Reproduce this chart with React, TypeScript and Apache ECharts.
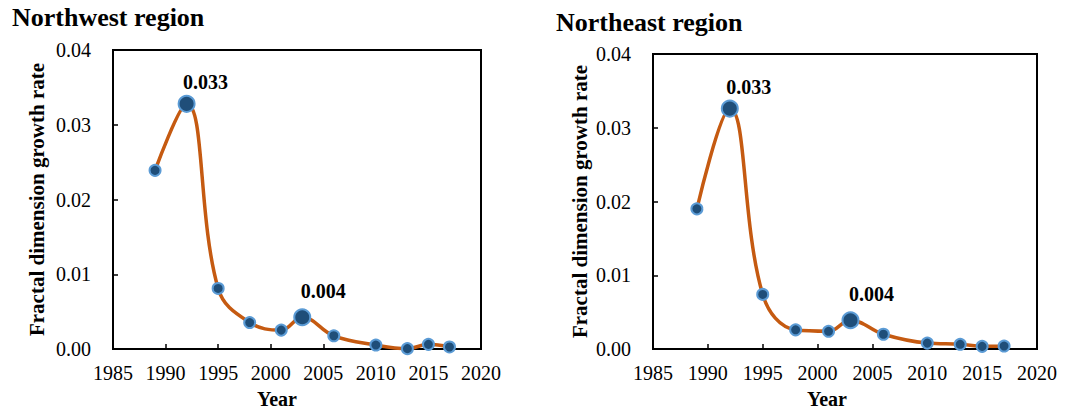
import React, { useEffect, useRef } from "react";
import * as echarts from "echarts";

const years = [1989, 1992, 1995, 1998, 2001, 2003, 2006, 2010, 2013, 2015, 2017];
const northwest = [0.0239, 0.0328, 0.0081, 0.00354, 0.00253, 0.00425, 0.00177, 0.00053, 0.00005, 0.00062, 0.00027];
const northeast = [0.019, 0.0326, 0.0074, 0.0026, 0.0024, 0.0039, 0.002, 0.0008, 0.00064, 0.00036, 0.0004];
const labelledYears = [1992, 2003];
const titles = ["Northwest region", "Northeast region"];
const yAxisName = "Fractal dimension growth rate";
const xAxisName = "Year";

const FONT = "Liberation Serif";

function buildData(values: number[], labelOffsets: number[][]) {
  return years.map((y, i) => {
    const li = labelledYears.indexOf(y);
    if (li >= 0) {
      return {
        value: [y, values[i]],
        symbolSize: 16,
        label: {
          show: true,
          position: "top",
          offset: labelOffsets[li],
          formatter: (p: any) => p.value[1].toFixed(3),
          fontFamily: FONT,
          fontWeight: "bold",
          fontSize: 20,
          color: "#000",
        },
      };
    }
    return { value: [y, values[i]] };
  });
}

export default function App() {
  const ref = useRef<HTMLDivElement>(null);
  useEffect(() => {
    if (!ref.current) return;
    const chart = echarts.init(ref.current, undefined, { renderer: "svg" });
    const grids = [
      { left: 113, top: 50, width: 368, height: 301 },
      { left: 653, top: 54, width: 384, height: 296 },
    ];
    const yNameGaps = [66, 63];
    const yearPads = [40, 36];
    const mkX = (i: number) => ({
      type: "value",
      gridIndex: i,
      min: 1985,
      max: 2020,
      interval: 5,
      name: xAxisName,
      nameLocation: "middle",
      nameGap: 40,
      nameTextStyle: {
        fontFamily: FONT,
        fontWeight: "bold",
        fontSize: 20,
        color: "#000",
        padding: [0, yearPads[i], 0, 0],
      },
      axisLine: { show: true, lineStyle: { color: "#000", width: 2 } },
      axisTick: { show: true, inside: true, length: 5, lineStyle: { color: "#000", width: 1.5 } },
      axisLabel: {
        fontFamily: FONT,
        fontSize: 20,
        color: "#000",
        margin: 14,
        formatter: (v: number) => String(v),
      },
      splitLine: { show: false },
    });
    const mkY = (i: number) => ({
      type: "value",
      gridIndex: i,
      min: 0,
      max: 0.04,
      interval: 0.01,
      name: yAxisName,
      nameLocation: "middle",
      nameGap: yNameGaps[i],
      nameTextStyle: { fontFamily: FONT, fontWeight: "bold", fontSize: 21, color: "#000" },
      axisLine: { show: true, lineStyle: { color: "#000", width: 2 } },
      axisTick: { show: true, inside: true, length: 5, lineStyle: { color: "#000", width: 1.5 } },
      axisLabel: {
        fontFamily: FONT,
        fontSize: 20,
        color: "#000",
        margin: 22,
        formatter: (v: number) => v.toFixed(2),
      },
      splitLine: { show: false },
    });
    const mkSeries = (i: number, values: number[], offs: number[][]) => ({
      type: "line",
      xAxisIndex: i,
      yAxisIndex: i,
      smooth: 0.4,
      symbol: "circle",
      symbolSize: 11,
      lineStyle: { color: "#C55A11", width: 3.5 },
      itemStyle: { color: "#1F4E79", borderColor: "#5B9BD5", borderWidth: 2 },
      data: buildData(values, offs),
      z: 3,
    });
    chart.setOption({
      animation: false,
      backgroundColor: "#fff",
      title: [
        { text: titles[0], left: 12, top: 4, padding: 0, textStyle: { fontFamily: FONT, fontWeight: "bold", fontSize: 26, color: "#000" } },
        { text: titles[1], left: 556, top: 9, padding: 0, textStyle: { fontFamily: FONT, fontWeight: "bold", fontSize: 26, color: "#000" } },
      ],
      grid: grids.map((g) => ({ ...g, show: true, borderColor: "#000", borderWidth: 2, backgroundColor: "transparent" })),
      xAxis: [mkX(0), mkX(1)],
      yAxis: [mkY(0), mkY(1)],
      series: [
        mkSeries(0, northwest, [[19, 2], [21, -2]]),
        mkSeries(1, northeast, [[19, 2], [21, -2]]),
      ],
    });
    return () => chart.dispose();
  }, []);
  return (
    <div
      ref={ref}
      style={{ position: "fixed", left: 0, top: 0, width: 1078, height: 414 }}
    />
  );
}
